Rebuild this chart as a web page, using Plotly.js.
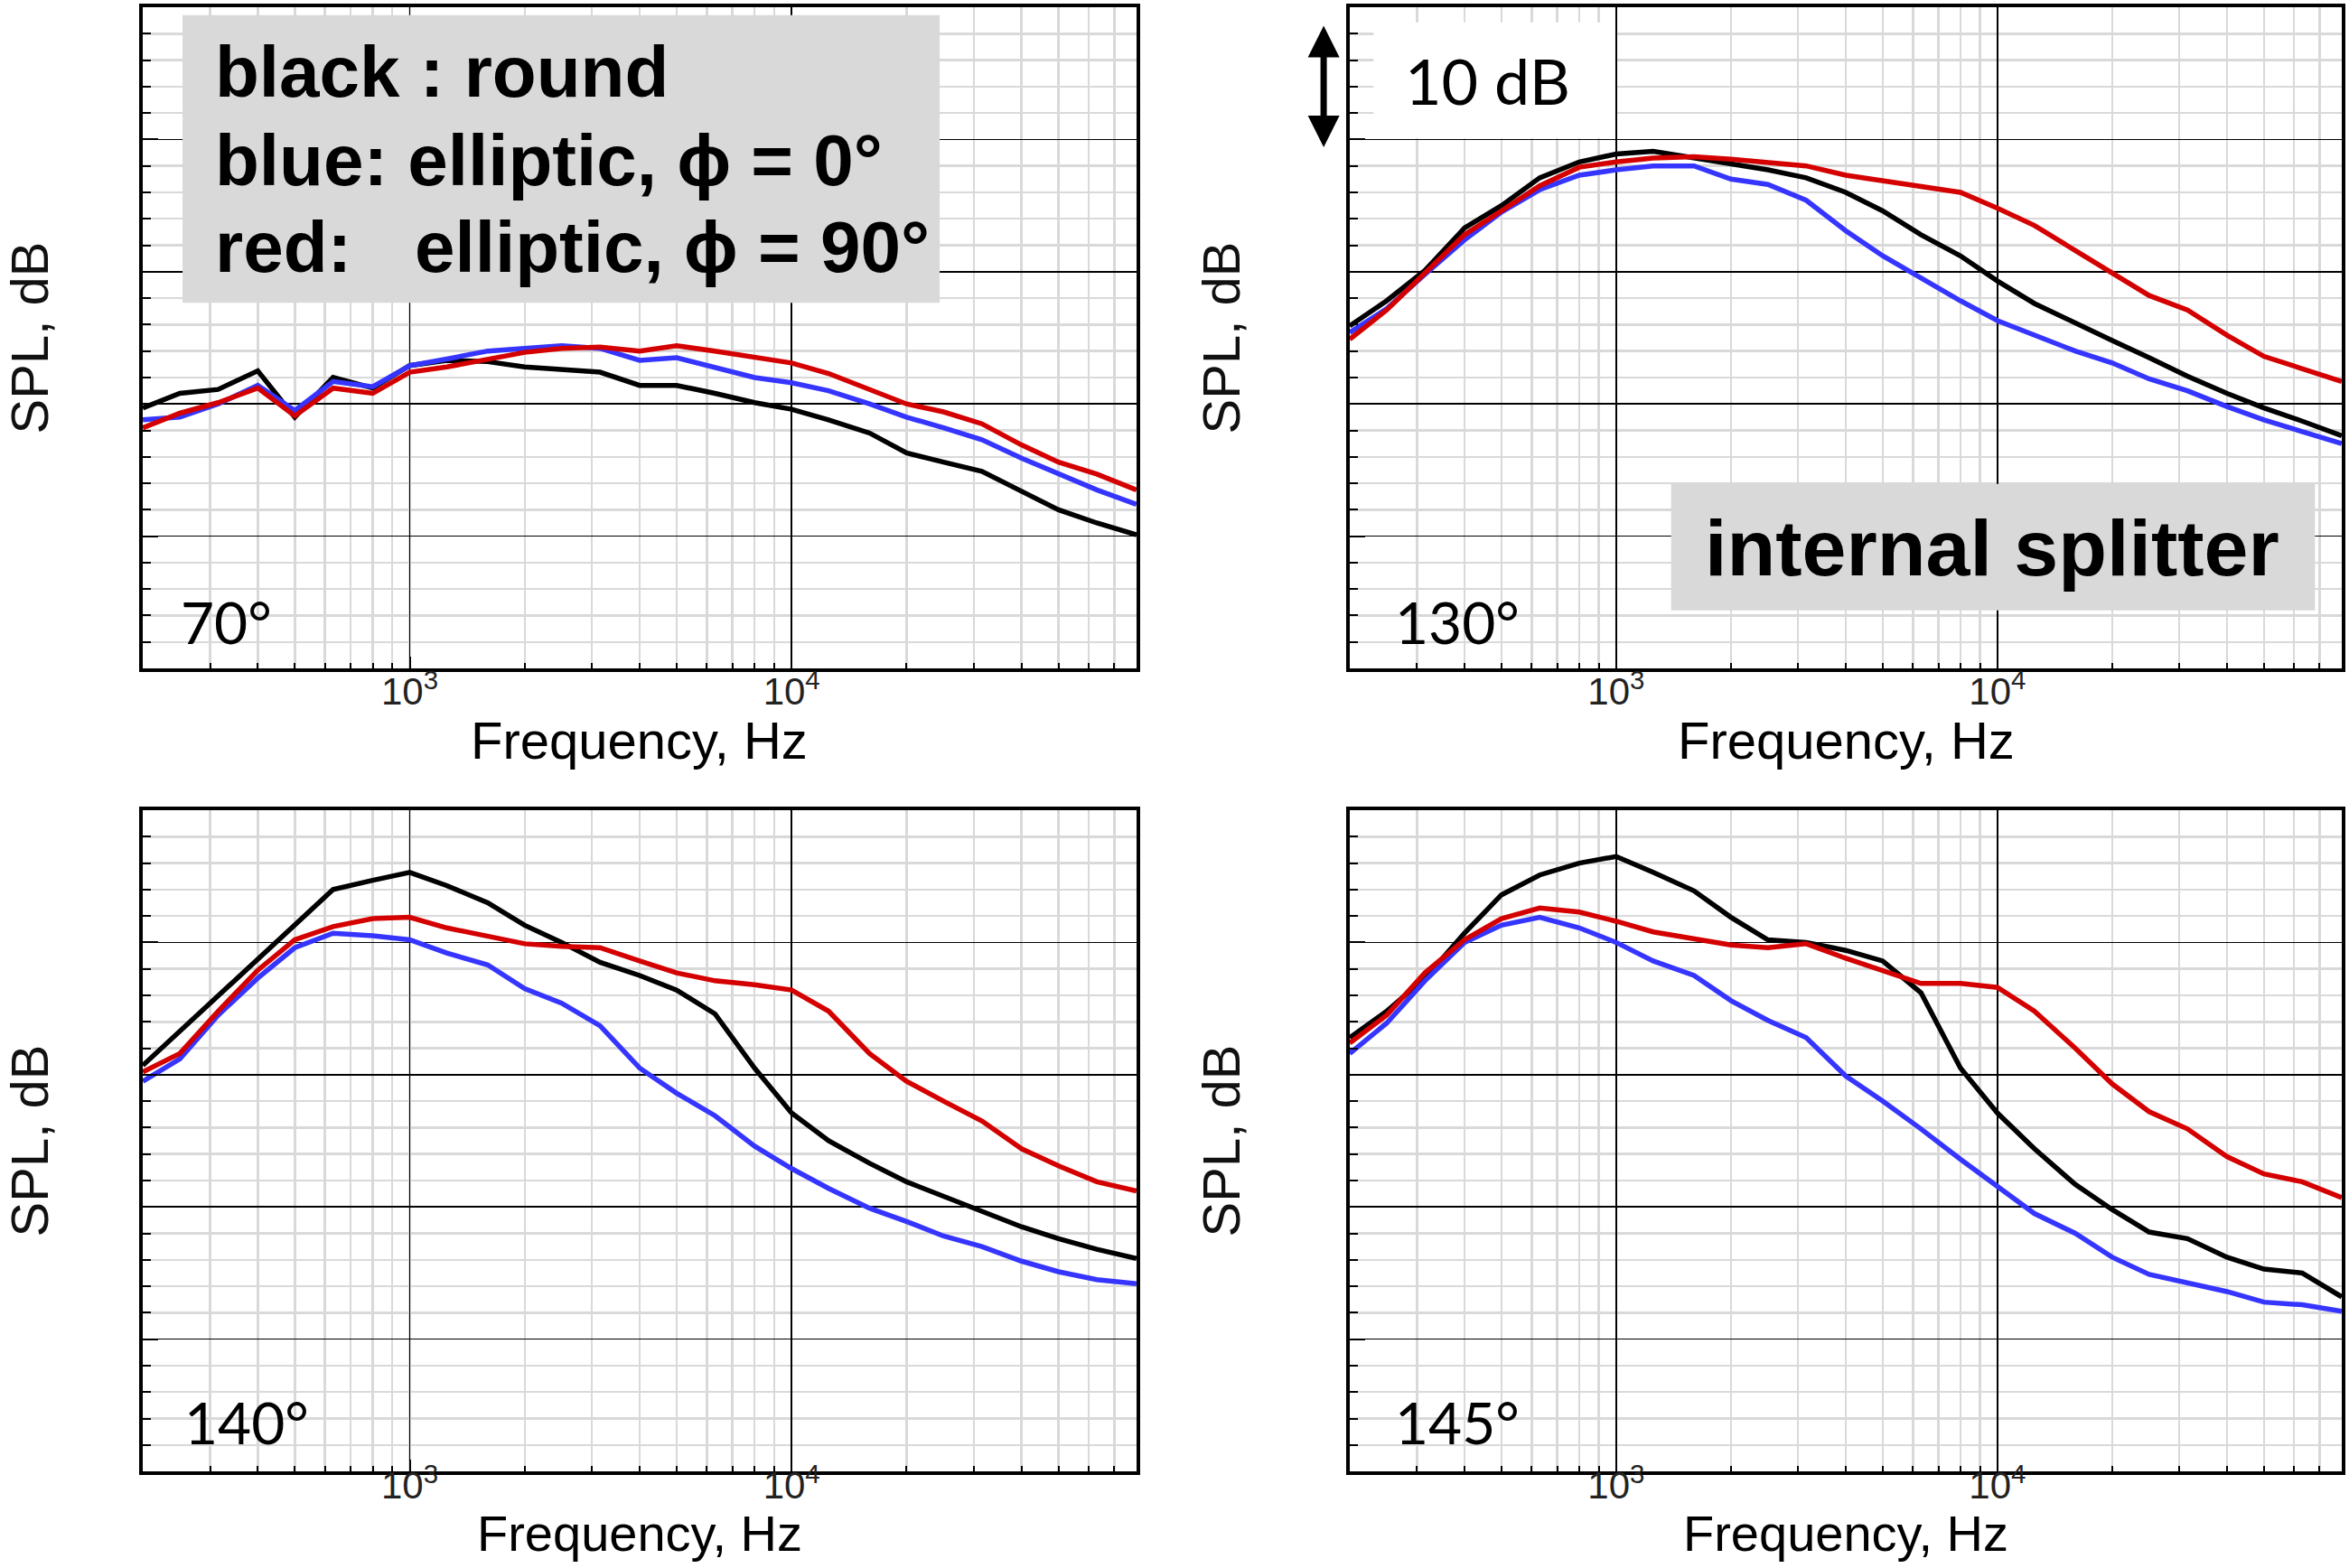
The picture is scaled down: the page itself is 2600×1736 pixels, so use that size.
<!DOCTYPE html>
<html>
<head>
<meta charset="utf-8">
<script src="https://cdn.plot.ly/plotly-3.0.1.min.js"></script>
<style>
  html, body { margin: 0; padding: 0; background: #fff; }
  #chart { width: 2600px; height: 1736px; }
</style>
</head>
<body>
<div id="chart"></div>
<script>
// 1/3-octave band centre frequencies, Hz
var freq = [200, 250, 315, 400, 500, 630, 800, 1000, 1250, 1600, 2000, 2500, 3150, 4000,
            5000, 6300, 8000, 10000, 12500, 16000, 20000, 25000, 31500, 40000, 50000, 63000, 80000];

// SPL in dB (relative, 10 dB per major grid line)
var black70 = [19.7,20.8,21.1,22.5,19.0,22.0,21.2,22.9,23.3,23.2,22.8,22.6,22.4,21.4,21.4,20.8,20.1,19.6,18.8,17.8,16.3,15.6,14.9,13.4,12.0,11.0,10.1];
var blue70  = [18.8,19.0,20.0,21.4,19.5,21.7,21.3,22.9,23.4,24.0,24.2,24.4,24.2,23.3,23.5,22.8,22.0,21.6,21.0,20.0,19.0,18.2,17.3,15.9,14.7,13.5,12.4];
var red70   = [18.2,19.3,20.1,21.2,19.1,21.2,20.8,22.4,22.8,23.4,23.9,24.2,24.3,24.0,24.4,24.0,23.5,23.1,22.3,21.1,20.0,19.4,18.5,16.9,15.6,14.7,13.5];

var black130 = [25.9,27.8,30.1,33.3,35.0,37.1,38.3,38.9,39.1,38.6,38.1,37.7,37.1,36.0,34.6,32.8,31.2,29.3,27.6,26.1,24.8,23.5,22.1,20.8,19.7,18.7,17.6];
var blue130  = [25.4,27.2,29.8,32.4,34.5,36.2,37.3,37.7,38.0,38.0,37.0,36.6,35.4,33.1,31.2,29.5,27.8,26.3,25.2,24.0,23.1,21.9,21.0,19.8,18.8,17.9,17.0];
var red130   = [24.9,27.1,29.9,32.8,34.6,36.5,37.9,38.3,38.6,38.7,38.5,38.3,38.0,37.3,36.9,36.5,36.0,34.8,33.5,31.6,29.9,28.2,27.1,25.2,23.6,22.7,21.7];

var black140 = [30.7,33.3,36.0,38.7,41.3,44.0,44.7,45.3,44.3,43.0,41.3,40.0,38.5,37.5,36.4,34.6,30.5,27.1,25.0,23.3,21.9,20.8,19.7,18.5,17.6,16.8,16.1];
var blue140  = [29.5,31.2,34.5,37.3,39.6,40.7,40.5,40.2,39.2,38.3,36.5,35.4,33.7,30.5,28.6,26.9,24.6,22.9,21.4,19.9,18.9,17.8,17.0,15.9,15.1,14.5,14.2];
var red140   = [30.2,31.6,34.8,37.9,40.2,41.2,41.8,41.9,41.1,40.5,39.9,39.7,39.6,38.6,37.7,37.1,36.8,36.4,34.8,31.6,29.5,28.0,26.5,24.4,23.1,21.9,21.2];

var black145 = [32.8,34.8,37.3,40.7,43.6,45.1,46.0,46.5,45.3,43.9,41.9,40.2,40.0,39.4,38.6,36.2,30.5,27.1,24.4,21.7,19.8,18.1,17.6,16.2,15.3,15.0,13.2];
var blue145  = [31.6,33.9,37.1,40.0,41.3,41.9,41.1,40.0,38.6,37.5,35.6,34.1,32.8,29.9,28.0,25.9,23.6,21.6,19.5,18.0,16.2,14.9,14.3,13.6,12.8,12.6,12.1];
var red145   = [32.4,34.5,37.7,40.2,41.8,42.6,42.3,41.6,40.8,40.3,39.8,39.6,39.9,38.8,37.9,36.9,36.9,36.6,34.8,32.0,29.3,27.2,25.9,23.8,22.5,21.9,20.7];

var angles = ['70°', '130°', '140°', '145°'];
var panels = [
  [black70, blue70, red70],
  [black130, blue130, red130],
  [black140, blue140, red140],
  [black145, blue145, red145]
];
var colors = ['#000000', '#3535ff', '#d40000'];

var FONT = 'Liberation Sans, Arial, sans-serif';
var FONT2 = 'Lato, Liberation Sans, sans-serif';

var data = [];
panels.forEach(function (set, p) {
  var n = p === 0 ? '' : String(p + 1);
  set.forEach(function (vals, k) {
    data.push({
      x: freq, y: vals, type: 'scatter', mode: 'lines',
      xaxis: 'x' + n, yaxis: 'y' + n,
      line: { color: colors[k], width: 5.5 },
      showlegend: false, hoverinfo: 'skip'
    });
  });
});

function xax(dom, anchor, off) {
  return {
    type: 'log', domain: dom, anchor: anchor,
    range: [Math.log10(200), Math.log10(80000)],
    tickvals: [1000, 10000], ticktext: ['10<sup>3</sup>', '10<sup>4</sup>'],
    tickfont: { family: FONT, size: 42, color: '#222' }, ticklabelstandoff: off,
    ticks: 'inside', ticklen: 13, tickwidth: 2, tickcolor: '#000',
    showgrid: true, gridcolor: '#000', gridwidth: 1.5,
    showline: true, linecolor: '#000', linewidth: 4, mirror: true, zeroline: false,
    minor: { dtick: 'D1', showgrid: true, gridcolor: '#d9d9d9', gridwidth: 2.5,
             ticks: 'inside', ticklen: 6, tickwidth: 2, tickcolor: '#000' },
    automargin: false, fixedrange: true
  };
}
function yax(dom, anchor) {
  return {
    domain: dom, anchor: anchor, range: [0, 50], tick0: 0, dtick: 10,
    showticklabels: false, ticks: 'inside', ticklen: 17, tickwidth: 2, tickcolor: '#000',
    showgrid: true, gridcolor: '#000', gridwidth: 1.5,
    showline: true, linecolor: '#000', linewidth: 4, mirror: true, zeroline: false,
    minor: { dtick: 2, showgrid: true, gridcolor: '#d9d9d9', gridwidth: 2.5,
             ticks: 'inside', ticklen: 9, tickwidth: 2, tickcolor: '#000' },
    title: { text: 'SPL, dB', font: { family: FONT, size: 58, color: '#111' }, standoff: 100 },
    automargin: false, fixedrange: true
  };
}

var xL = [0.0608, 0.4838], xR = [0.5746, 0.9969];
var yT = [0.5737, 0.9954], yB = [0.0616, 0.4833];

function txt(xr, yr, x, y, s, size, bold, anchor, fam) {
  return {
    xref: xr, yref: yr, x: x, y: y, text: bold ? '<b>' + s + '</b>' : s,
    showarrow: false, xanchor: anchor || 'left', yanchor: 'middle',
    font: { family: fam || FONT, size: size, color: '#000' }
  };
}

var annotations = [
  txt('x domain', 'y domain', 0.036, 0.071, angles[0], 64, false, 'left', FONT2),
  txt('x2 domain', 'y2 domain', 0.044, 0.071, angles[1], 64, false, 'left', FONT2),
  txt('x3 domain', 'y3 domain', 0.040, 0.074, angles[2], 64, false, 'left', FONT2),
  txt('x4 domain', 'y4 domain', 0.044, 0.074, angles[3], 64, false, 'left', FONT2),
  txt('x domain', 'y domain', 0.071, 0.902, 'black : round', 80, true),
  txt('x domain', 'y domain', 0.071, 0.769, 'blue: elliptic, ϕ = 0°', 80, true),
  txt('x domain', 'y domain', 0.071, 0.637, 'red:', 80, true),
  txt('x domain', 'y domain', 0.272, 0.637, 'elliptic, ϕ = 90°', 80, true),
  txt('x2 domain', 'y2 domain', 0.139, 0.889, '10 dB', 70, false, 'center', FONT2),
  txt('x2 domain', 'y2 domain', 0.648, 0.182, 'internal splitter', 88, true, 'center'),
  // x-axis titles
  txt('paper', 'paper', 0.2723, 0.5282, 'Frequency, Hz', 58, false, 'center'),
  txt('paper', 'paper', 0.7858, 0.5282, 'Frequency, Hz', 58, false, 'center'),
  txt('paper', 'paper', 0.2723, 0.0222, 'Frequency, Hz', 56, false, 'center'),
  txt('paper', 'paper', 0.7858, 0.0222, 'Frequency, Hz', 56, false, 'center'),
  {
    xref: 'paper', yref: 'paper', x: 0.5635, y: 0.9061, ax: 0, ay: -136,
    axref: 'pixel', ayref: 'pixel', text: '', showarrow: true,
    arrowhead: 2, arrowside: 'end+start', arrowwidth: 7, arrowsize: 1, arrowcolor: '#000'
  }
];

var shapes = [
  { type: 'rect', xref: 'x domain', yref: 'y domain', x0: 0.04, x1: 0.802, y0: 0.553, y1: 0.988,
    fillcolor: '#d9d9d9', line: { width: 0 }, layer: 'above' },
  { type: 'rect', xref: 'x2 domain', yref: 'y2 domain', x0: 0.024, x1: 0.2677, y0: 0.8014, y1: 0.977,
    fillcolor: '#ffffff', line: { width: 0 }, layer: 'above' },
  { type: 'rect', xref: 'x2 domain', yref: 'y2 domain', x0: 0.324, x1: 0.973, y0: 0.088, y1: 0.279,
    fillcolor: '#d9d9d9', line: { width: 0 }, layer: 'above' }
];

var layout = {
  width: 2600, height: 1736,
  margin: { l: 0, r: 0, t: 0, b: 0 },
  paper_bgcolor: '#fff', plot_bgcolor: '#fff',
  font: { family: FONT, color: '#000' },
  showlegend: false,
  xaxis: xax(xL, 'y', -14), yaxis: yax(yT, 'x'),
  xaxis2: xax(xR, 'y2', -14), yaxis2: yax(yT, 'x2'),
  xaxis3: xax(xL, 'y3', -24), yaxis3: yax(yB, 'x3'),
  xaxis4: xax(xR, 'y4', -24), yaxis4: yax(yB, 'x4'),
  annotations: annotations,
  shapes: shapes
};

Plotly.newPlot('chart', data, layout, { staticPlot: true, displayModeBar: false });
</script>
</body>
</html>
